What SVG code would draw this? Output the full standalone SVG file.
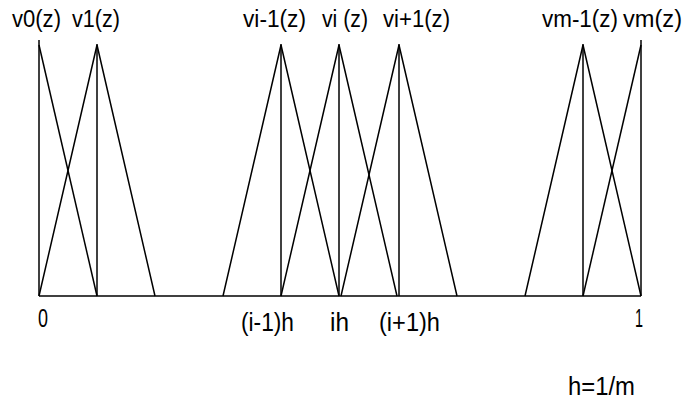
<svg xmlns="http://www.w3.org/2000/svg" width="683" height="403" viewBox="0 0 683 403">
<style>
.ln{stroke:#000;stroke-width:1.5;fill:none}
.t{font-family:"Liberation Sans",Arial,sans-serif;font-size:23px;fill:#000}
.b{font-family:"Liberation Sans",Arial,sans-serif;font-size:26px;fill:#000}
</style>
<rect width="683" height="403" fill="#fff"/>
<g id="axis"><line class="ln" x1="39" y1="296" x2="641" y2="296"/></g>
<g id="v0"><line class="ln" x1="39" y1="40" x2="39" y2="296"/><polyline class="ln" points="39,45 97,296"/></g>
<g id="v1"><line class="ln" x1="97" y1="44" x2="97" y2="296"/><polyline class="ln" points="39,296 97,45 155,296"/></g>
<g id="vim1"><line class="ln" x1="281" y1="44" x2="281" y2="296"/><polyline class="ln" points="223,296 281,45 339,296"/></g>
<g id="vi"><line class="ln" x1="339" y1="44" x2="339" y2="296"/><polyline class="ln" points="281,296 339,45 397,296"/></g>
<g id="vip1"><line class="ln" x1="399" y1="44" x2="399" y2="296"/><polyline class="ln" points="341,296 399,45 457,296"/></g>
<g id="vmm1"><line class="ln" x1="583" y1="44" x2="583" y2="296"/><polyline class="ln" points="525,296 583,45 641,296"/></g>
<g id="vm"><line class="ln" x1="641" y1="40" x2="641" y2="296"/><polyline class="ln" points="583,296 641,45"/></g>
<g id="labels">
<text class="t" x="12" y="27" textLength="49" lengthAdjust="spacingAndGlyphs">v0(z)</text>
<text class="t" x="72" y="27" textLength="48" lengthAdjust="spacingAndGlyphs">v1(z)</text>
<text class="t" x="243" y="27" textLength="63" lengthAdjust="spacingAndGlyphs">vi-1(z)</text>
<text class="t" x="322" y="27" textLength="46" lengthAdjust="spacingAndGlyphs">vi (z)</text>
<text class="t" x="383" y="27" textLength="67" lengthAdjust="spacingAndGlyphs">vi+1(z)</text>
<text class="t" x="542" y="27" textLength="76" lengthAdjust="spacingAndGlyphs">vm-1(z)</text>
<text class="t" x="623" y="27" textLength="59" lengthAdjust="spacingAndGlyphs">vm(z)</text>
<text class="b" x="38" y="327" textLength="10" lengthAdjust="spacingAndGlyphs">0</text>
<text class="b" x="241" y="331" textLength="53" lengthAdjust="spacingAndGlyphs">(i-1)h</text>
<text class="b" x="330" y="331" textLength="19" lengthAdjust="spacingAndGlyphs">ih</text>
<text class="b" x="379" y="331" textLength="61" lengthAdjust="spacingAndGlyphs">(i+1)h</text>
<text class="b" x="635" y="327" textLength="8" lengthAdjust="spacingAndGlyphs">1</text>
<text class="b" x="568" y="395" textLength="67" lengthAdjust="spacingAndGlyphs">h=1/m</text>
</g>
</svg>
